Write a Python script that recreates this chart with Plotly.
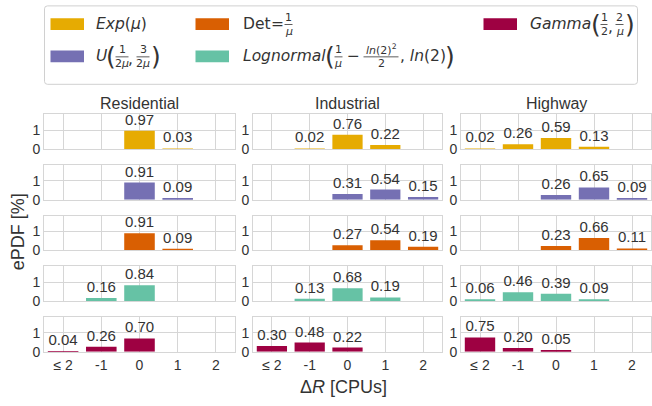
import plotly.graph_objects as go
from plotly.subplots import make_subplots

W, H = 652, 406

categories = ["≤ 2", "-1", "0", "1", "2"]
scenarios = ["Residential", "Industrial", "Highway"]
dist_names = ["Exp", "U", "Det", "Lognormal", "Gamma"]
dist_colors = ["#E6AB02", "#7570B3", "#D95F02", "#66C2A5", "#9E0142"]

# per category (None = no bar)
residential_exp = [None, None, 0.97, 0.03, None]
residential_u = [None, None, 0.91, 0.09, None]
residential_det = [None, None, 0.91, 0.09, None]
residential_lognormal = [None, 0.16, 0.84, None, None]
residential_gamma = [0.04, 0.26, 0.70, None, None]

industrial_exp = [None, 0.02, 0.76, 0.22, None]
industrial_u = [None, None, 0.31, 0.54, 0.15]
industrial_det = [None, None, 0.27, 0.54, 0.19]
industrial_lognormal = [None, 0.13, 0.68, 0.19, None]
industrial_gamma = [0.30, 0.48, 0.22, None, None]

highway_exp = [0.02, 0.26, 0.59, 0.13, None]
highway_u = [None, None, 0.26, 0.65, 0.09]
highway_det = [None, None, 0.23, 0.66, 0.11]
highway_lognormal = [0.06, 0.46, 0.39, 0.09, None]
highway_gamma = [0.75, 0.20, 0.05, None, None]

values = {
    "Residential": [residential_exp, residential_u, residential_det, residential_lognormal, residential_gamma],
    "Industrial": [industrial_exp, industrial_u, industrial_det, industrial_lognormal, industrial_gamma],
    "Highway": [highway_exp, highway_u, highway_det, highway_lognormal, highway_gamma],
}

FONT = "Liberation Sans, Arial, sans-serif"
MFONT = "DejaVu Sans, sans-serif"
TXT = "#333333"
GRID = "#d6d6d6"

fig = make_subplots(rows=5, cols=3)

col_px = [(44, 235), (253, 442), (461, 651)]
row_top0, row_pitch, row_h = 116.7, 51.65, 35.5

for c, scen in enumerate(scenarios):
    for r in range(5):
        vals = values[scen][r]
        cats = [k for k, v in zip(categories, vals) if v is not None]
        yv = [v for v in vals if v is not None]
        txt = [f"{v:.2f}" for v in yv]
        fig.add_trace(go.Bar(
            x=cats, y=yv, text=txt, textposition="outside",
            constraintext="none", cliponaxis=False,
            marker=dict(color=dist_colors[r], line=dict(width=0)),
            textfont=dict(size=15, color=TXT, family=FONT),
            showlegend=False, hoverinfo="skip",
        ), row=r + 1, col=c + 1)
        idx = r * 3 + c + 1
        xa = "xaxis" if idx == 1 else f"xaxis{idx}"
        ya = "yaxis" if idx == 1 else f"yaxis{idx}"
        top = row_top0 + r * row_pitch
        bot = top + row_h
        fig.layout[xa].update(
            domain=[col_px[c][0] / W, col_px[c][1] / W],
            type="category", categoryorder="array", categoryarray=categories,
            range=[-0.5, 4.5], showgrid=True, gridcolor=GRID, gridwidth=1,
            showline=True, mirror=True, linecolor=GRID, linewidth=1,
            zeroline=False, ticks="", showticklabels=(r == 4),
            tickmode="array", tickvals=categories,
            tickfont=dict(size=14, color=TXT, family=FONT),
        )
        fig.layout[ya].update(
            domain=[1 - bot / H, 1 - top / H],
            range=[0, 1.83], tickvals=[0, 1], ticktext=["0", "1"],
            showgrid=True, gridcolor=GRID, gridwidth=1,
            showline=True, mirror=True, linecolor=GRID, linewidth=1,
            zeroline=False, ticks="",
            tickfont=dict(size=14, color=TXT, family=FONT),
        )

def ann(px, py, s, size, xanchor="left", yanchor="middle", family=MFONT, **kw):
    fig.add_annotation(x=px / W, y=1 - py / H, xref="paper", yref="paper", text=s,
                       showarrow=False, xanchor=xanchor, yanchor=yanchor, borderpad=0,
                       font=dict(size=size, family=family, color=TXT), **kw)

def hline(x0, x1, py, color=TXT, width=1):
    fig.add_shape(type="line", xref="paper", yref="paper",
                  x0=x0 / W, x1=x1 / W, y0=1 - py / H, y1=1 - py / H,
                  line=dict(color=color, width=width))

def frac(cx, cy, num, den, w, size=11):
    ann(cx, cy - 6.5, num, size, "center", "middle")
    ann(cx, cy + 7.5, den, size, "center", "middle")
    hline(cx - w / 2, cx + w / 2, cy + 0.5, width=0.8)

# subplot titles
for c, scen in enumerate(scenarios):
    cx = (col_px[c][0] + col_px[c][1]) / 2
    ann(cx, 106, scen, 16, "center", "middle", family=FONT)

# axis titles
ann(343, 395, "Δ<i>R</i> [CPUs]", 18, "center", "middle", family=FONT)
fig.add_annotation(x=18 / W, y=1 - 237 / H, xref="paper", yref="paper", text="ePDF [%]",
                   showarrow=False, textangle=-90, xanchor="center", yanchor="middle",
                   font=dict(size=18, family=FONT, color=TXT))

# legend frame (rounded)
x0, y0, x1, y1, rr = 44.5 / W, 1 - 6 / H, 637.5 / W, 1 - 86 / H, 3
rx, ry = rr / W, rr / H
path = (f"M {x0+rx},{y0} L {x1-rx},{y0} Q {x1},{y0} {x1},{y0-ry} "
        f"L {x1},{y1+ry} Q {x1},{y1} {x1-rx},{y1} L {x0+rx},{y1} "
        f"Q {x0},{y1} {x0},{y1+ry} L {x0},{y0-ry} Q {x0},{y0} {x0+rx},{y0} Z")
fig.add_shape(type="path", path=path, xref="paper", yref="paper",
              line=dict(color="#d0d0d0", width=1), fillcolor="rgba(255,255,255,0.8)")

# legend patches (column-major order as in the reference)
R1, R2 = 24.5, 57.5
patch_x = [50.5, 50.5, 195.5, 195.5, 483.5]
patch_y = [R1, R2, R1, R2, R1]
for i in range(5):
    fig.add_shape(type="rect", xref="paper", yref="paper",
                  x0=patch_x[i] / W, x1=(patch_x[i] + 33.5) / W,
                  y0=1 - (patch_y[i] - 6) / H, y1=1 - (patch_y[i] + 6) / H,
                  fillcolor=dist_colors[i], line=dict(width=0))

LS = 15.5  # legend font size
PS = 25    # big parenthesis size

# Exp(mu)
ann(95, R1, "<i>Exp</i>(<i>μ</i>)", LS)

# U(1/2mu, 3/2mu)
ann(95, R2, "<i>U</i>", LS)
ann(111, R2, "(", PS, "center")
frac(122, R2, "1", "2<i>μ</i>", 13)
ann(130.5, R2 + 3, ",", LS, "center")
frac(143, R2, "3", "2<i>μ</i>", 13)
ann(156, R2, ")", PS, "center")

# Det = 1/mu
ann(241.5, R1, "Det", LS)
ann(277, R1, "=", LS, "center")
frac(288.5, R1, "1", "<i>μ</i>", 8)

# Lognormal(1/mu - ln(2)^2/2, ln(2))
ann(241.5, R2, "<i>Lognormal</i>", LS)
ann(329.5, R2, "(", PS, "center")
frac(338.5, R2, "1", "<i>μ</i>", 8)
ann(353.5, R2, "−", LS, "center")
frac(381, R2, "<i>ln</i>(2)<sup>2</sup>", "2", 35)
ann(399, R2, ", <i>ln</i>(2)", LS)
ann(449.5, R2, ")", PS, "center")

# Gamma(1/2, 2/mu)
ann(528.5, R1, "<i>Gamma</i>", LS)
ann(595.5, R1, "(", PS, "center")
frac(604, R1, "1", "2", 7)
ann(610, R1 + 3, ",", LS, "center")
frac(619.5, R1, "2", "<i>μ</i>", 8)
ann(629.5, R1, ")", PS, "center")

fig.update_layout(
    width=W, height=H, margin=dict(l=0, r=0, t=0, b=0),
    paper_bgcolor="white", plot_bgcolor="white",
    bargap=0.2, font=dict(family=FONT, color=TXT),
)

fig.write_html("out.html", config={"displayModeBar": False},
               post_script="document.body.style.margin='0px';")
